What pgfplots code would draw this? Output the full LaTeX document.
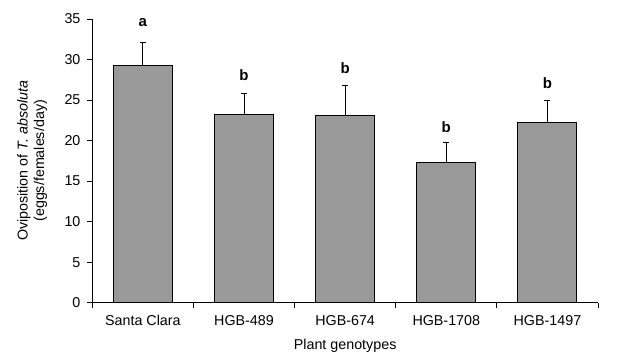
\documentclass[border=0pt]{standalone}
\usepackage{pgfplots}
\pgfplotsset{compat=1.18}
\usepackage{fontspec}
\setmainfont{Liberation Sans}
\definecolor{barfill}{RGB}{153,153,153}
\begin{document}
\begin{tikzpicture}
\fontsize{14bp}{16bp}\selectfont
\begin{axis}[
  scale only axis,
  width=505.7bp, height=283.7bp,
  xmin=-0.5, xmax=4.5,
  ymin=0, ymax=35,
  ytick={0,5,...,35},
  xtick={-0.5,0.5,1.5,2.5,3.5,4.5},
  x tick label as interval,
  xticklabels={Santa Clara,HGB-489,HGB-674,HGB-1708,HGB-1497},
  axis x line*=bottom, axis y line*=left,
  axis line style={line width=0.9bp, black, -},
  tick style={line width=0.9bp, black},
  major tick length=5bp,
  tick align=outside,
  /pgf/number format/assume math mode=true,
  ticklabel style={font=\fontsize{14.3bp}{16bp}\selectfont},
  yticklabel style={xshift=-2bp},
  xticklabel style={yshift=-3bp},
  xlabel={Plant genotypes},
  ylabel={Oviposition of \textit{T. absoluta}\\(eggs/females/day)},
  xlabel style={at={(axis description cs:0.5,-0.152)}, anchor=center, font=\fontsize{14.3bp}{16bp}\selectfont},
  ylabel style={at={(axis description cs:-0.119,0.5)}, anchor=center, align=center, font=\fontsize{14.3bp}{16.5bp}\selectfont},
  clip=false,
]
\addplot[ybar, bar width=59bp, fill=barfill, draw=black, line width=0.9bp,
  error bars/.cd, y dir=plus, y explicit,
  error bar style={line width=0.9bp, black},
  error mark options={rotate=90, mark size=3bp, line width=0.9bp, black}]
  table[x=x, y=y, y error=e] {
x y e
0 29.3 2.8
1 23.2 2.65
2 23.1 3.65
3 17.3 2.45
4 22.2 2.7
};
\node[anchor=base, font=\fontsize{15bp}{17bp}\selectfont\bfseries] at (axis cs:0,34.1) {a};
\node[anchor=base, font=\fontsize{15bp}{17bp}\selectfont\bfseries] at (axis cs:1,27.4) {b};
\node[anchor=base, font=\fontsize{15bp}{17bp}\selectfont\bfseries] at (axis cs:2,28.3) {b};
\node[anchor=base, font=\fontsize{15bp}{17bp}\selectfont\bfseries] at (axis cs:3,21.0) {b};
\node[anchor=base, font=\fontsize{15bp}{17bp}\selectfont\bfseries] at (axis cs:4,26.45) {b};
\end{axis}
\pgfresetboundingbox
\path[use as bounding box] ([xshift=-92.3bp,yshift=-53.3bp]current axis.south west) rectangle ([xshift=545.7bp,yshift=302.7bp]current axis.south west);
\end{tikzpicture}
\end{document}
